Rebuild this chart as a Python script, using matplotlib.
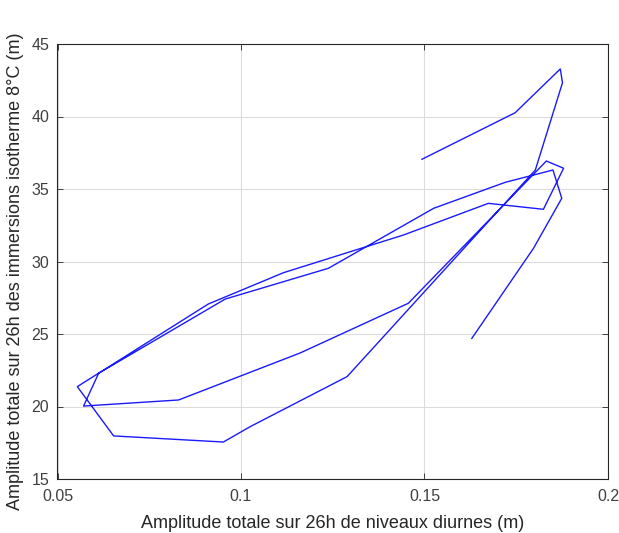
import matplotlib
matplotlib.use("Agg")
import matplotlib.pyplot as plt

plt.rcParams['font.family'] = ['Liberation Sans', 'DejaVu Sans']

# Path of (x, y) samples
amp_niveaux = [0.1493, 0.1747, 0.1870, 0.1876, 0.1802, 0.1289, 0.1025, 0.0952,
               0.0653, 0.0554, 0.0911, 0.1116, 0.1443, 0.1674, 0.1824, 0.1879,
               0.1832, 0.1456, 0.1161, 0.0830, 0.0571, 0.0612, 0.0957, 0.1238,
               0.1525, 0.1720, 0.1850, 0.1874, 0.1797, 0.1629]
amp_isotherme = [37.05, 40.26, 43.28, 42.33, 36.31, 22.06, 18.61, 17.55,
                 17.97, 21.37, 27.07, 29.23, 31.83, 34.01, 33.60, 36.43,
                 36.93, 27.12, 23.69, 20.45, 20.03, 22.29, 27.41, 29.53,
                 33.67, 35.46, 36.31, 34.36, 30.91, 24.70]

xticks = [0.05, 0.1, 0.15, 0.2]
xtick_labels = ['0.05', '0.1', '0.15', '0.2']
yticks = [15, 20, 25, 30, 35, 40, 45]

fig = plt.figure(figsize=(6.19, 5.33), dpi=100)
ax = fig.add_axes([57.5/619, 1-479/533, (608-57.5)/619, (479-44)/533])

ax.plot(amp_niveaux, amp_isotherme, color=(0.1, 0.1, 1.0), linewidth=1.0)

ax.set_xlim(0.05, 0.2)
ax.set_ylim(15, 45)
ax.set_xticks(xticks)
ax.set_xticklabels(xtick_labels)
ax.set_yticks(yticks)
ax.grid(True, color='#dcdcdc', linewidth=0.8)
ax.set_axisbelow(True)

tc = '#404040'
for s in ax.spines.values():
    s.set_color('#262626')
    s.set_linewidth(0.8)
ax.tick_params(direction='in', top=True, right=True, length=4, width=0.6,
               colors='#262626', labelcolor=tc, labelsize=11.5)
ax.tick_params(axis='x', pad=7)
ax.tick_params(axis='y', pad=6)

ax.set_xlabel('Amplitude totale sur 26h de niveaux diurnes (m)', fontsize=13, color='#262626', labelpad=8)
ax.set_ylabel('Amplitude totale sur 26h des immersions isotherme 8°C (m)', fontsize=13, color='#262626')
ax.yaxis.set_label_coords(-0.06, 0.478)

fig.savefig('out.png', dpi=100, facecolor='white')
